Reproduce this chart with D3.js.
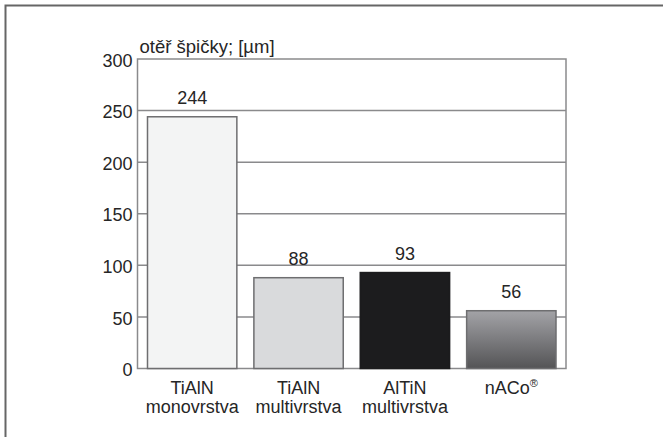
<!DOCTYPE html>
<html>
<head>
<meta charset="utf-8">
<script src="https://cdn.jsdelivr.net/npm/d3@7"></script>
<style>
  body { margin: 0; background: #fff; }
  svg text { font-family: "Liberation Sans", Arial, sans-serif; fill: #262626; }
</style>
</head>
<body>
<div id="chart"></div>
<script>
// data
const coatings = ['TiAlN|monovrstva', 'TiAlN|multivrstva', 'AlTiN|multivrstva', 'nACo®'];
const wear = [244, 88, 93, 56];
const barFills = ['#f3f4f4', '#d9dadc', '#1c1c1e', 'url(#nacoGrad)'];
const yTicks = [0, 50, 100, 150, 200, 250, 300];

const W = 663, H = 437;
const svg = d3.select('#chart').append('svg')
  .attr('width', W).attr('height', H);

// outer frame: only top and left edges are visible
svg.append('path')
  .attr('d', `M5.5,${H} V5.5 H${W}`)
  .attr('fill', 'none').attr('stroke', '#666').attr('stroke-width', 2);

const defs = svg.append('defs');
const grad = defs.append('linearGradient').attr('id', 'nacoGrad')
  .attr('x1', 0).attr('y1', 0).attr('x2', 0).attr('y2', 1);
grad.append('stop').attr('offset', '0%').attr('stop-color', '#a3a3a7');
grad.append('stop').attr('offset', '100%').attr('stop-color', '#545456');

const plotL = 137.5, plotR = 566, plotT = 59, plotB = 368.5;

const x = d3.scaleBand()
  .domain(coatings)
  .range([plotL, plotR])
  .paddingInner(0.16)
  .paddingOuter(0.094);

const y = d3.scaleLinear().domain([0, 300]).range([plotB, plotT]);

// grid lines
svg.append('g').selectAll('line')
  .data(yTicks.filter(d => d > 0 && d < 300))
  .join('line')
  .attr('x1', plotL).attr('x2', plotR)
  .attr('y1', d => y(d)).attr('y2', d => y(d))
  .attr('stroke', '#8a8a8c').attr('stroke-width', 1.5);

// plot box
svg.append('rect')
  .attr('x', plotL).attr('y', plotT)
  .attr('width', plotR - plotL).attr('height', plotB - plotT)
  .attr('fill', 'none').attr('stroke', '#8a8a8c').attr('stroke-width', 1.5);

// bars
svg.append('g').selectAll('rect')
  .data(wear)
  .join('rect')
  .attr('x', (d, i) => x(coatings[i]))
  .attr('y', d => y(d))
  .attr('width', x.bandwidth())
  .attr('height', d => y(0) - y(d))
  .attr('fill', (d, i) => barFills[i])
  .attr('stroke', (d, i) => i == 2 ? '#1c1c1e' : '#6e6e70')
  .attr('stroke-width', 1.5);

// value labels
svg.append('g').selectAll('text')
  .data(wear)
  .join('text')
  .attr('x', (d, i) => x(coatings[i]) + x.bandwidth() / 2)
  .attr('y', d => y(d) - 13)
  .attr('text-anchor', 'middle')
  .style('font-size', '18px')
  .text(d => d);

// y axis labels
const yAxis = d3.axisLeft(y).tickValues(yTicks).tickSize(0).tickPadding(5);
const ya = svg.append('g').attr('transform', `translate(${plotL},0)`).call(yAxis);
ya.select('.domain').remove();
ya.selectAll('text').style('font-size', '18px').style('font-family', null)
  .attr('fill', '#262626').attr('dy', '0.4em');

// axis title
svg.append('text')
  .attr('x', plotL + 2).attr('y', 53)
  .style('font-size', '18.5px')
  .text('otěř špičky; [µm]');

// category labels (two lines)
const xl = svg.append('g').selectAll('text')
  .data(coatings)
  .join('text')
  .attr('x', d => x(d) + x.bandwidth() / 2)
  .attr('y', 394)
  .attr('text-anchor', 'middle')
  .style('font-size', '18px');

xl.each(function (d) {
  const parts = d.split('|');
  const t = d3.select(this);
  parts.forEach((p, k) => {
    const ts = t.append('tspan')
      .attr('x', x(d) + x.bandwidth() / 2)
      .attr('dy', k === 0 ? 0 : 19);
    if (p.endsWith('®')) {
      ts.text(p.slice(0, -1));
      t.append('tspan').attr('dy', -7).style('font-size', '11px').text('®');
    } else {
      ts.text(p);
    }
  });
});
</script>
</body>
</html>
